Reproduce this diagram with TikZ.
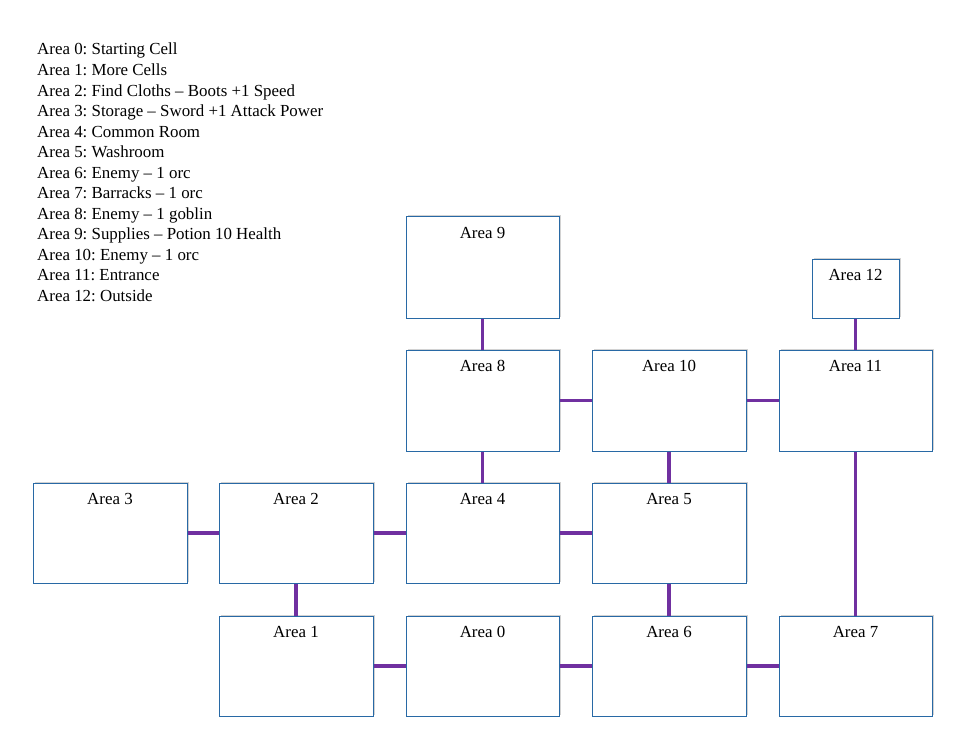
\documentclass[tikz,border=0pt]{standalone}
\usepackage{fontspec}
\setmainfont{Liberation Serif}
\usetikzlibrary{shadows}
\frenchspacing

\definecolor{roomblue}{RGB}{40,105,165}
\definecolor{linkpurple}{RGB}{112,48,160}

\tikzset{
  room/.style={draw=roomblue, line width=1pt, fill=white, inner sep=0pt,
    drop shadow={shadow xshift=1.5pt, shadow yshift=1.5pt, opacity=0.35},
    label={[anchor=north, inner sep=0pt, yshift=-11pt]north:#1}},
  link/.style={linkpurple, line width=3.5pt}
}

\begin{document}
\begin{tikzpicture}[x=1pt, y=-1pt, font=\fontsize{16.9pt}{20.55pt}\selectfont]

% page frame
\useasboundingbox (0,0) rectangle (969,746);
\fill[white] (0,0) rectangle (969,746);

% list of areas
\node[anchor=north west, align=left, inner sep=0pt] (legend) at (37,43) {%
Area 0: Starting Cell\\
Area 1: More Cells\\
Area 2: Find Cloths -- Boots +1 Speed\\
Area 3: Storage -- Sword +1 Attack Power\\
Area 4: Common Room\\
Area 5: Washroom\\
Area 6: Enemy -- 1 orc\\
Area 7: Barracks -- 1 orc\\
Area 8: Enemy -- 1 goblin\\
Area 9: Supplies -- Potion 10 Health\\
Area 10: Enemy -- 1 orc\\
Area 11: Entrance\\
Area 12: Outside};

% rooms (name / centre x / centre y / width / height)
\foreach \n/\x/\y/\w/\h in {9/482.5/267.5/153/101, 12/855.5/288.5/87/59,
  8/482.5/400.5/153/101, 10/669/400.5/154/101, 11/855.5/400.5/153/101,
  3/110/533/154/100, 2/296/533/154/100, 4/482.5/533/153/100, 5/669/533/154/100,
  1/296/666/154/100, 0/482.5/666/153/100, 6/669/666/154/100, 7/855.5/666/153/100}
{
  \node[room={Area \n}, minimum width=\w pt, minimum height=\h pt] (a\n) at (\x,\y) {};
}

% passages
\foreach \a/\b in {9/8, 8/10, 10/11, 12/11, 8/4, 10/5, 11/7, 3/2, 2/4, 4/5,
  2/1, 5/6, 1/0, 0/6, 6/7}
{
  \draw[link] (a\a) -- (a\b);
}

\end{tikzpicture}
\end{document}
